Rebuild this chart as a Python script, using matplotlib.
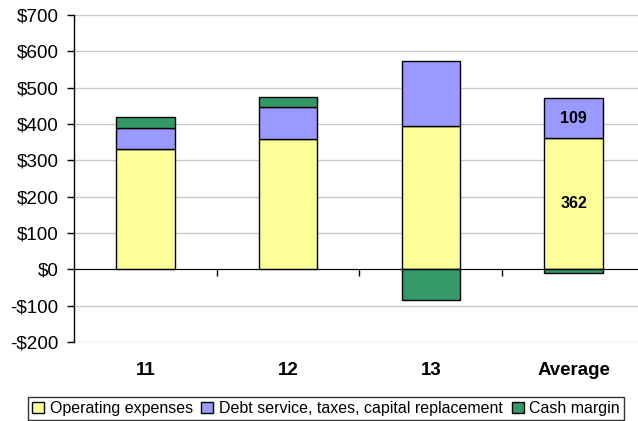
import matplotlib
matplotlib.use("Agg")
import matplotlib.pyplot as plt
from matplotlib.transforms import blended_transform_factory

plt.rcParams['font.family'] = ['Liberation Sans', 'DejaVu Sans']

# values ($)
categories = ["11", "12", "13", "Average"]
operating = [330, 360, 394, 362]
debt_service = [60, 88, 180, 109]
cash_margin = [28, 25, -84, -10]
series_names = ["Operating expenses", "Debt service, taxes, capital replacement", "Cash margin"]
labelled = {3: (362, 109)}   # only the Average bar carries numbers

yellow, blue, green = '#FFFF99', '#9999FF', '#339966'

fig = plt.figure(figsize=(6.38, 4.21), dpi=100)
# plot area runs a bit past the right edge of the image, as in the original
ax = fig.add_axes([74 / 638, 1 - 342 / 421, 571 / 638, 327 / 421])

x = list(range(len(categories)))
w = 0.41
ax.bar(x, operating, w, color=yellow, edgecolor='black', linewidth=1, label=series_names[0], zorder=3)
ax.bar(x, debt_service, w, bottom=operating, color=blue, edgecolor='black', linewidth=1,
       label=series_names[1], zorder=3)
# cash margin stacks on top when positive, hangs below zero when negative
cash_bottom = [o + d if c >= 0 else 0 for o, d, c in zip(operating, debt_service, cash_margin)]
ax.bar(x, cash_margin, w, bottom=cash_bottom, color=green, edgecolor='black', linewidth=1,
       label=series_names[2], zorder=3)

for i, (op, ds) in labelled.items():
    ax.text(i, op / 2, str(op), ha='center', va='center', fontsize=11.5, fontweight='bold', zorder=4)
    ax.text(i, op + ds / 2, str(ds), ha='center', va='center', fontsize=11.5, fontweight='bold', zorder=4)

ax.set_xlim(-0.5, len(categories) - 0.5)
ax.set_ylim(-200, 700)
ax.set_yticks(range(-200, 701, 100))
ax.set_yticklabels([f"-${-v}" if v < 0 else f"${v}" for v in range(-200, 701, 100)], fontsize=13.6)
ax.yaxis.grid(True, color='#C8C8C8', linewidth=1, zorder=0)
ax.tick_params(axis='y', length=5, width=1, color='black', pad=6)

# category axis sits on the zero line with ticks between categories
ax.spines['bottom'].set_position(('data', 0))
ax.spines['bottom'].set_zorder(5)
ax.set_xticks([i + 0.5 for i in x[:-1]])
ax.set_xticklabels([])
ax.tick_params(axis='x', length=5, width=1, direction='out')
for s in ('top', 'right'):
    ax.spines[s].set_visible(False)
ax.spines['left'].set_linewidth(1)

trans = blended_transform_factory(ax.transData, ax.transAxes)
for i, cat in enumerate(categories):
    ax.text(i, -0.086, cat, transform=trans, ha='center', va='center', fontsize=13.5, fontweight='bold')

leg = fig.legend(loc='upper left', bbox_to_anchor=(28 / 638, 1 - 397 / 421), ncol=3,
                 fontsize=11.5, frameon=True, fancybox=False, edgecolor='black',
                 handlelength=0.75, handleheight=0.75, handletextpad=0.35, columnspacing=0.55,
                 borderpad=0.25, borderaxespad=0)
leg.get_frame().set_linewidth(1)

fig.savefig("out.png", dpi=100)
